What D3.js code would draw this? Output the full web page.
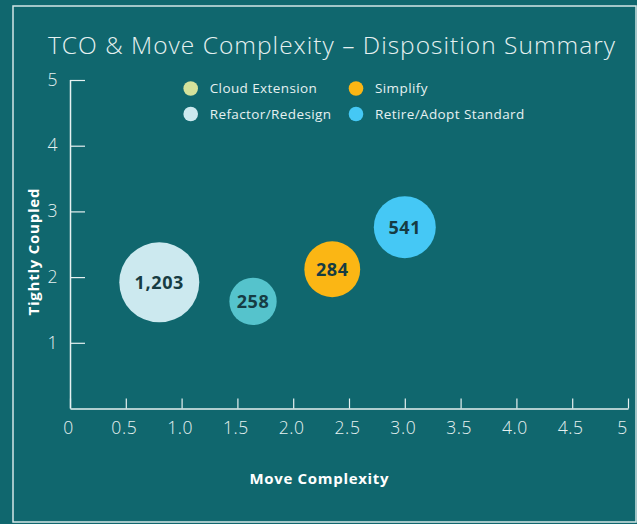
<!DOCTYPE html>
<html><head><meta charset="utf-8">
<script src="https://cdn.jsdelivr.net/npm/d3@7"></script>
<style>html,body{margin:0;padding:0;background:#10676e;overflow:hidden}</style>
</head><body>
<svg id="c" width="637" height="524"></svg>
<script>
// ---- data ----
const labels = ["1,203", "258", "284", "541"];
const counts = [1203, 258, 284, 541];
const moveComplexity = [0.8, 1.64, 2.35, 3.0];
const tightlyCoupled = [1.92, 1.63, 2.12, 2.76];
const tco = [16.0, 5.6, 7.8, 9.6];
const bubbleColors = ["#cce9ef", "#55c3cc", "#fbb614", "#45c8f5"];
const legendNames = ["Cloud Extension", "Refactor/Redesign", "Simplify", "Retire/Adopt Standard"];
const legendColors = ["#d4e29b", "#cce9ef", "#fbb614", "#45c8f5"];
const xTicks = [0, 0.5, 1.0, 1.5, 2.0, 2.5, 3.0, 3.5, 4.0, 4.5, 5];
const xTickLabels = ["0", "0.5", "1.0", "1.5", "2.0", "2.5", "3.0", "3.5", "4.0", "4.5", "5"];
const yTicks = [1, 2, 3, 4, 5];

const svg = d3.select("#c");
const fg = "#e6f1f1";
const font = "'Open Sans', sans-serif";

svg.append("rect").attr("x", 0).attr("y", 0).attr("width", 637).attr("height", 524).attr("fill", "#10676e");
svg.append("rect").attr("x", 13).attr("y", 6).attr("width", 623).attr("height", 516)
  .attr("fill", "none").attr("stroke", "#d2e6e6").attr("stroke-width", 1.5);

const x = d3.scaleLinear().domain([0, 5]).range([70, 628]);
const y = d3.scaleLinear().domain([0, 5]).range([408.5, 80]);
const r = d3.scaleSqrt().domain([0, d3.max(tco)]).range([0, 40]);

// title
svg.append("text").attr("x", 48).attr("y", 54).attr("fill", fg)
  .attr("font-family", font).attr("font-weight", 300).attr("font-size", 24.5)
  .attr("textLength", 567).attr("lengthAdjust", "spacing")
  .text("TCO & Move Complexity \u2013 Disposition Summary");

// x axis
const xa = svg.append("g").attr("transform", "translate(0,408.5)")
  .call(d3.axisBottom(x).tickValues(xTicks).tickFormat((d, i) => xTickLabels[i]).tickSizeInner(-10).tickSizeOuter(0).tickPadding(12));
// y axis
const ya = svg.append("g").attr("transform", "translate(70,0)")
  .call(d3.axisLeft(y).tickValues(yTicks).tickFormat(d3.format("d")).tickSizeInner(-15).tickSizeOuter(0).tickPadding(12));
[xa, ya].forEach(g => {
  g.select(".domain").attr("stroke", fg).attr("stroke-width", 1.5);
  g.selectAll(".tick line").attr("stroke", fg).attr("stroke-width", 1.2);
  g.selectAll(".tick text").attr("fill", fg).attr("font-family", font).attr("font-weight", 300)
    .attr("font-size", 17.5).attr("letter-spacing", 0.6);
});
ya.select(".domain").attr("d", `M0.5,${y(5)}V${y(0)}`);
ya.selectAll(".tick text").attr("dy", "0.3em");
xa.selectAll(".tick text").attr("dy", "0.75em").attr("dx", -2);
xa.selectAll(".tick:last-of-type text").attr("dx", -6);

// axis titles
svg.append("text").attr("x", 319).attr("y", 484).attr("text-anchor", "middle").attr("fill", "#ffffff")
  .attr("font-family", font).attr("font-weight", 700).attr("font-size", 15)
  .attr("textLength", 139).attr("lengthAdjust", "spacing").text("Move Complexity");
svg.append("text").attr("transform", "translate(39,252) rotate(-90)").attr("text-anchor", "middle").attr("fill", "#ffffff")
  .attr("font-family", font).attr("font-weight", 700).attr("font-size", 15)
  .attr("textLength", 127).attr("lengthAdjust", "spacing").text("Tightly Coupled");

// legend
const legX = [190.7, 190.7, 356, 356];
const legY = [88.5, 114, 88.5, 114];
legendNames.forEach((n, i) => {
  svg.append("circle").attr("cx", legX[i]).attr("cy", legY[i]).attr("r", 7.3).attr("fill", legendColors[i]);
  svg.append("text").attr("x", legX[i] + 19).attr("y", legY[i]).attr("dy", "0.35em").attr("fill", fg)
    .attr("font-family", font).attr("font-size", 13.5).attr("letter-spacing", 0.4).text(n);
});

// bubbles
const data = counts.map((c, i) => ({c, label: labels[i], x: moveComplexity[i], y: tightlyCoupled[i], s: tco[i], col: bubbleColors[i]}));
const b = svg.append("g").selectAll("g").data(data).join("g")
  .attr("transform", d => `translate(${x(d.x)},${y(d.y)})`);
b.append("circle").attr("r", d => r(d.s)).attr("fill", d => d.col);
b.append("text").attr("text-anchor", "middle").attr("dy", "0.36em").attr("fill", "#163c43")
  .attr("font-family", font).attr("font-weight", 700).attr("font-size", 18).attr("letter-spacing", 0.6)
  .text(d => d.label);
</script>
</body></html>
